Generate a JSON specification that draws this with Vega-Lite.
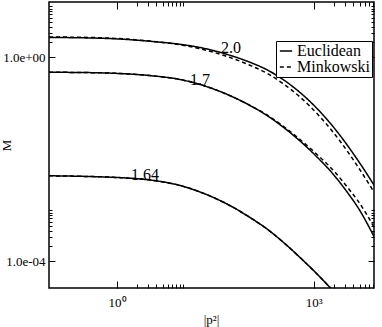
{
  "$schema": "https://vega.github.io/schema/vega-lite/v6.json",
  "autosize": "none",
  "width": 325,
  "height": 286,
  "padding": {"left": 49, "top": 2, "right": 8, "bottom": 39},
  "background": "white",
  "config": {
    "font": "Liberation Serif",
    "view": {"stroke": "black", "strokeWidth": 1.5},
    "axis": {"grid": false, "domain": false, "tickColor": "black", "tickWidth": 1, "labelColor": "black", "titleColor": "black", "labelFont": "Liberation Serif", "titleFont": "Liberation Serif", "titleFontWeight": "normal"}
  },
  "datasets": {
    "curves": [
      {"curve": "2.0", "metric": "Euclidean", "p": 0.0919, "M": 2.466},
      {"curve": "2.0", "metric": "Euclidean", "p": 0.2729, "M": 2.434},
      {"curve": "2.0", "metric": "Euclidean", "p": 1, "M": 2.316},
      {"curve": "2.0", "metric": "Euclidean", "p": 3.184, "M": 2.078},
      {"curve": "2.0", "metric": "Euclidean", "p": 9.13, "M": 1.815},
      {"curve": "2.0", "metric": "Euclidean", "p": 18.42, "M": 1.570},
      {"curve": "2.0", "metric": "Euclidean", "p": 44.29, "M": 1.182},
      {"curve": "2.0", "metric": "Euclidean", "p": 106.5, "M": 0.805},
      {"curve": "2.0", "metric": "Euclidean", "p": 193.5, "M": 0.574},
      {"curve": "2.0", "metric": "Euclidean", "p": 339.2, "M": 0.3704},
      {"curve": "2.0", "metric": "Euclidean", "p": 616.1, "M": 0.2060},
      {"curve": "2.0", "metric": "Euclidean", "p": 1119, "M": 0.1},
      {"curve": "2.0", "metric": "Euclidean", "p": 1962, "M": 0.04436},
      {"curve": "2.0", "metric": "Euclidean", "p": 3563, "M": 0.01607},
      {"curve": "2.0", "metric": "Euclidean", "p": 4554, "M": 0.01023},
      {"curve": "2.0", "metric": "Euclidean", "p": 8274, "M": 0.003162},
      {"curve": "1.7", "metric": "Euclidean", "p": 0.0919, "M": 0.5127},
      {"curve": "1.7", "metric": "Euclidean", "p": 0.2729, "M": 0.5081},
      {"curve": "1.7", "metric": "Euclidean", "p": 1, "M": 0.4880},
      {"curve": "1.7", "metric": "Euclidean", "p": 3.184, "M": 0.4416},
      {"curve": "1.7", "metric": "Euclidean", "p": 9.13, "M": 0.3704},
      {"curve": "1.7", "metric": "Euclidean", "p": 18.42, "M": 0.2955},
      {"curve": "1.7", "metric": "Euclidean", "p": 44.29, "M": 0.1968},
      {"curve": "1.7", "metric": "Euclidean", "p": 106.5, "M": 0.1145},
      {"curve": "1.7", "metric": "Euclidean", "p": 193.5, "M": 0.07290},
      {"curve": "1.7", "metric": "Euclidean", "p": 339.2, "M": 0.04338},
      {"curve": "1.7", "metric": "Euclidean", "p": 616.1, "M": 0.02306},
      {"curve": "1.7", "metric": "Euclidean", "p": 1119, "M": 0.01119},
      {"curve": "1.7", "metric": "Euclidean", "p": 1962, "M": 0.005200},
      {"curve": "1.7", "metric": "Euclidean", "p": 3563, "M": 0.001923},
      {"curve": "1.7", "metric": "Euclidean", "p": 4554, "M": 0.001225},
      {"curve": "1.7", "metric": "Euclidean", "p": 8274, "M": 0.000309},
      {"curve": "1.64", "metric": "Euclidean", "p": 0.0919, "M": 0.004790},
      {"curve": "1.64", "metric": "Euclidean", "p": 0.2729, "M": 0.004683},
      {"curve": "1.64", "metric": "Euclidean", "p": 1, "M": 0.004436},
      {"curve": "1.64", "metric": "Euclidean", "p": 3.184, "M": 0.003963},
      {"curve": "1.64", "metric": "Euclidean", "p": 9.13, "M": 0.003091},
      {"curve": "1.64", "metric": "Euclidean", "p": 18.42, "M": 0.002306},
      {"curve": "1.64", "metric": "Euclidean", "p": 44.29, "M": 0.001403},
      {"curve": "1.64", "metric": "Euclidean", "p": 106.5, "M": 0.000729},
      {"curve": "1.64", "metric": "Euclidean", "p": 193.5, "M": 0.000434},
      {"curve": "1.64", "metric": "Euclidean", "p": 339.2, "M": 0.000241},
      {"curve": "1.64", "metric": "Euclidean", "p": 616.1, "M": 0.0001198},
      {"curve": "1.64", "metric": "Euclidean", "p": 1119, "M": 0.0000569},
      {"curve": "1.64", "metric": "Euclidean", "p": 1705, "M": 0.0000324},
      {"curve": "1.64", "metric": "Euclidean", "p": 2508, "M": 0.0000192},
      {"curve": "2.0", "metric": "Minkowski", "p": 0.0919, "M": 2.523},
      {"curve": "2.0", "metric": "Minkowski", "p": 0.2729, "M": 2.489},
      {"curve": "2.0", "metric": "Minkowski", "p": 1, "M": 2.358},
      {"curve": "2.0", "metric": "Minkowski", "p": 3.184, "M": 2.097},
      {"curve": "2.0", "metric": "Minkowski", "p": 9.13, "M": 1.774},
      {"curve": "2.0", "metric": "Minkowski", "p": 18.42, "M": 1.488},
      {"curve": "2.0", "metric": "Minkowski", "p": 44.29, "M": 1.080},
      {"curve": "2.0", "metric": "Minkowski", "p": 106.5, "M": 0.7033},
      {"curve": "2.0", "metric": "Minkowski", "p": 193.5, "M": 0.4899},
      {"curve": "2.0", "metric": "Minkowski", "p": 339.2, "M": 0.3091},
      {"curve": "2.0", "metric": "Minkowski", "p": 616.1, "M": 0.1681},
      {"curve": "2.0", "metric": "Minkowski", "p": 1119, "M": 0.0798},
      {"curve": "2.0", "metric": "Minkowski", "p": 1962, "M": 0.0346},
      {"curve": "2.0", "metric": "Minkowski", "p": 3563, "M": 0.01225},
      {"curve": "2.0", "metric": "Minkowski", "p": 4554, "M": 0.00769},
      {"curve": "2.0", "metric": "Minkowski", "p": 8274, "M": 0.002306},
      {"curve": "1.7", "metric": "Minkowski", "p": 0.0919, "M": 0.5127},
      {"curve": "1.7", "metric": "Minkowski", "p": 0.2729, "M": 0.5081},
      {"curve": "1.7", "metric": "Minkowski", "p": 1, "M": 0.4880},
      {"curve": "1.7", "metric": "Minkowski", "p": 3.184, "M": 0.4416},
      {"curve": "1.7", "metric": "Minkowski", "p": 9.13, "M": 0.3704},
      {"curve": "1.7", "metric": "Minkowski", "p": 18.42, "M": 0.2955},
      {"curve": "1.7", "metric": "Minkowski", "p": 44.29, "M": 0.1968},
      {"curve": "1.7", "metric": "Minkowski", "p": 106.5, "M": 0.1145},
      {"curve": "1.7", "metric": "Minkowski", "p": 193.5, "M": 0.07456},
      {"curve": "1.7", "metric": "Minkowski", "p": 339.2, "M": 0.04538},
      {"curve": "1.7", "metric": "Minkowski", "p": 616.1, "M": 0.02467},
      {"curve": "1.7", "metric": "Minkowski", "p": 1119, "M": 0.01253},
      {"curve": "1.7", "metric": "Minkowski", "p": 1962, "M": 0.006223},
      {"curve": "1.7", "metric": "Minkowski", "p": 3563, "M": 0.002466},
      {"curve": "1.7", "metric": "Minkowski", "p": 4554, "M": 0.001644},
      {"curve": "1.7", "metric": "Minkowski", "p": 8274, "M": 0.000474},
      {"curve": "1.64", "metric": "Minkowski", "p": 0.0919, "M": 0.004790},
      {"curve": "1.64", "metric": "Minkowski", "p": 0.2729, "M": 0.004683},
      {"curve": "1.64", "metric": "Minkowski", "p": 1, "M": 0.004436},
      {"curve": "1.64", "metric": "Minkowski", "p": 3.184, "M": 0.003963},
      {"curve": "1.64", "metric": "Minkowski", "p": 9.13, "M": 0.003091},
      {"curve": "1.64", "metric": "Minkowski", "p": 18.42, "M": 0.002306},
      {"curve": "1.64", "metric": "Minkowski", "p": 44.29, "M": 0.001403},
      {"curve": "1.64", "metric": "Minkowski", "p": 106.5, "M": 0.000729},
      {"curve": "1.64", "metric": "Minkowski", "p": 193.5, "M": 0.000434},
      {"curve": "1.64", "metric": "Minkowski", "p": 339.2, "M": 0.000241},
      {"curve": "1.64", "metric": "Minkowski", "p": 616.1, "M": 0.0001198},
      {"curve": "1.64", "metric": "Minkowski", "p": 1119, "M": 0.0000569},
      {"curve": "1.64", "metric": "Minkowski", "p": 1705, "M": 0.0000324},
      {"curve": "1.64", "metric": "Minkowski", "p": 2508, "M": 0.0000192}
    ],
    "labels": [
      {"text": "2.0", "p": 54.7, "M": 1.225},
      {"text": "1.7", "p": 18.4, "M": 0.289},
      {"text": "1.64", "p": 2.67, "M": 0.00396}
    ],
    "ax": [
      {"p": 1, "M": 1}
    ]
  },
  "resolve": {"axis": {"x": "independent", "y": "independent"}},
  "layer": [
    {
      "data": {"name": "curves"},
      "mark": {"type": "line", "interpolate": "monotone", "color": "black", "strokeWidth": 1.5, "clip": true},
      "encoding": {
        "x": {"field": "p", "type": "quantitative",
          "scale": {"type": "log", "domain": [0.0919, 8274], "nice": false, "zero": false},
          "axis": {"orient": "bottom", "values": [1, 1000], "tickSize": -7, "labelPadding": 15, "labelFontSize": 13,
            "labelExpr": "datum.value == 1 ? '10⁰' : '10³'",
            "title": "|p²|", "titleFontSize": 13, "titleX": 162, "titleY": 35, "titleAlign": "center", "titleBaseline": "alphabetic"}},
        "y": {"field": "M", "type": "quantitative",
          "scale": {"type": "log", "domain": [0.0000302, 12.25], "nice": false, "zero": false},
          "axis": {"orient": "left", "values": [0.0001, 1], "tickSize": -6, "labelPadding": 10, "labelFontSize": 13,
            "labelExpr": "datum.value == 1 ? '1.0e+00' : '1.0e-04'",
            "title": "M", "titleFontSize": 13, "titleX": -43, "titleY": 143, "titleAlign": "center", "titleBaseline": "middle", "titleAngle": 270}},
        "strokeDash": {"field": "metric", "type": "nominal",
          "scale": {"domain": ["Euclidean", "Minkowski"], "range": [[1, 0], [4, 3]]},
          "legend": {"title": null, "orient": "none", "legendX": 227, "legendY": 39,
            "strokeColor": "black", "fillColor": "white", "padding": 2,
            "symbolType": "stroke", "symbolSize": 150, "symbolStrokeWidth": 1.5, "symbolStrokeColor": "black",
            "labelFontSize": 16, "labelFont": "Liberation Serif", "labelColor": "black", "labelOffset": 3, "rowPadding": -3}},
        "detail": {"field": "curve", "type": "nominal"}
      }
    },
    {
      "data": {"name": "labels"},
      "mark": {"type": "text", "font": "Liberation Serif", "fontSize": 16, "align": "center", "baseline": "alphabetic", "color": "black"},
      "encoding": {
        "x": {"field": "p", "type": "quantitative", "scale": {"type": "log", "domain": [0.0919, 8274], "nice": false, "zero": false},
          "axis": {"orient": "top", "values": [1, 1000], "tickSize": -7, "labels": false, "title": null}},
        "y": {"field": "M", "type": "quantitative", "scale": {"type": "log", "domain": [0.0000302, 12.25], "nice": false, "zero": false},
          "axis": {"orient": "right", "values": [0.0001, 1], "tickSize": -6, "labels": false, "title": null}},
        "text": {"field": "text", "type": "nominal"}
      }
    },
    {
      "data": {"name": "ax"},
      "mark": {"type": "point", "opacity": 0},
      "encoding": {
        "x": {"field": "p", "type": "quantitative", "scale": {"type": "log", "domain": [0.0919, 8274], "nice": false, "zero": false},
          "axis": {"orient": "bottom", "values": [2, 3, 4, 5, 6, 7, 8, 9, 10, 2000, 3000, 4000, 5000, 6000, 7000, 8000], "tickSize": -4, "labels": false, "title": null}},
        "y": {"field": "M", "type": "quantitative", "scale": {"type": "log", "domain": [0.0000302, 12.25], "nice": false, "zero": false},
          "axis": {"orient": "left", "values": [0.0002, 0.0003, 0.0004, 0.0005, 0.0006, 0.0007, 0.0008, 0.0009, 0.001, 2, 3, 4, 5, 6, 7, 8, 9, 10], "tickSize": -3, "labels": false, "title": null}}
      }
    },
    {
      "data": {"name": "ax"},
      "mark": {"type": "point", "opacity": 0},
      "encoding": {
        "x": {"field": "p", "type": "quantitative", "scale": {"type": "log", "domain": [0.0919, 8274], "nice": false, "zero": false},
          "axis": {"orient": "top", "values": [2, 3, 4, 5, 6, 7, 8, 9, 10, 2000, 3000, 4000, 5000, 6000, 7000, 8000], "tickSize": -4, "labels": false, "title": null}},
        "y": {"field": "M", "type": "quantitative", "scale": {"type": "log", "domain": [0.0000302, 12.25], "nice": false, "zero": false},
          "axis": {"orient": "right", "values": [0.0002, 0.0003, 0.0004, 0.0005, 0.0006, 0.0007, 0.0008, 0.0009, 0.001, 2, 3, 4, 5, 6, 7, 8, 9, 10], "tickSize": -3, "labels": false, "title": null}}
      }
    }
  ]
}
